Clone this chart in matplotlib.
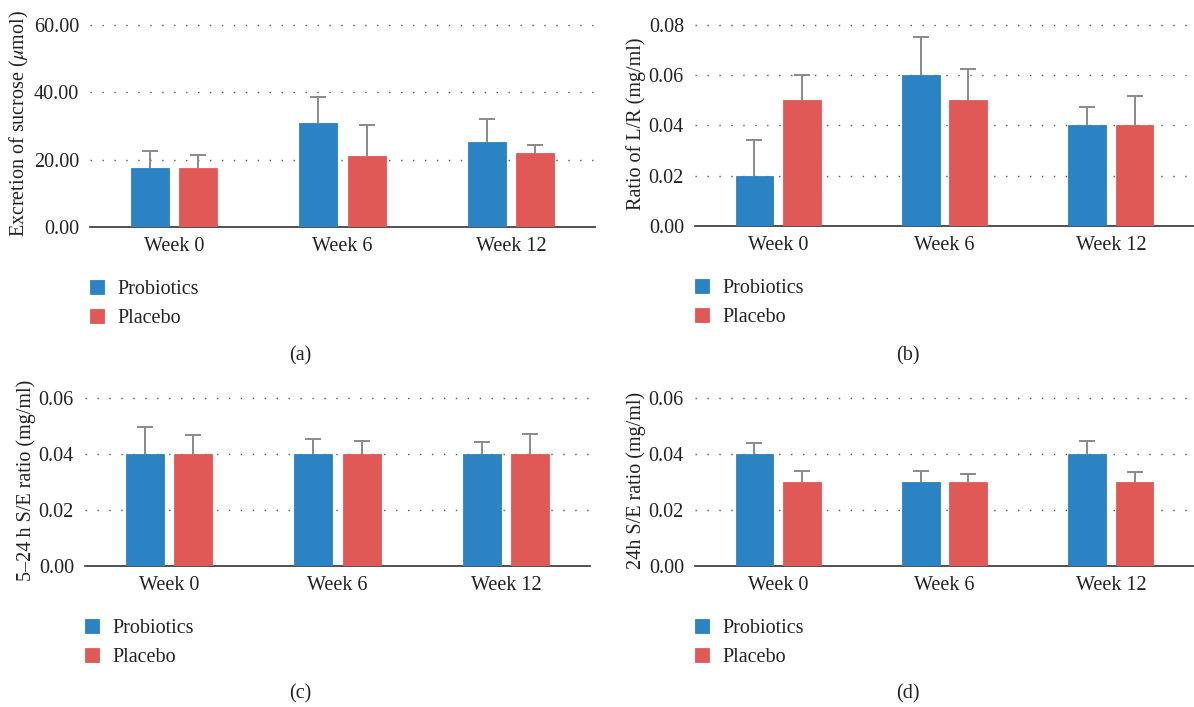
import numpy as np
from matplotlib import pyplot as plt

weeks = ["Week 0", "Week 6", "Week 12"]
groups = ["Probiotics", "Placebo"]

# (a) excretion of sucrose
sucrose_pro = [17.5, 30.9, 25.2]
sucrose_pro_top = [22.6, 38.7, 32.1]
sucrose_pla = [17.5, 21.1, 22.0]
sucrose_pla_top = [21.4, 30.3, 24.4]

# (b) ratio of L/R
lr_pro = [0.02, 0.06, 0.04]
lr_pro_top = [0.0342, 0.0751, 0.0473]
lr_pla = [0.05, 0.05, 0.04]
lr_pla_top = [0.060, 0.0624, 0.0518]

# (c) 5-24h S/E ratio
se524_pro = [0.04, 0.04, 0.04]
se524_pro_top = [0.0496, 0.0455, 0.0444]
se524_pla = [0.04, 0.04, 0.04]
se524_pla_top = [0.0468, 0.0447, 0.0472]

# (d) 24h S/E ratio
se24_pro = [0.04, 0.03, 0.04]
se24_pro_top = [0.0441, 0.034, 0.0447]
se24_pla = [0.03, 0.03, 0.03]
se24_pla_top = [0.0339, 0.033, 0.0336]

blue = "#2b83c3"
red = "#e05957"
plt.rcParams['font.family'] = ['Liberation Serif', 'DejaVu Serif']
plt.rcParams['mathtext.fontset'] = 'stix'
fs = 14.5

W, H = 1194, 707
fig = plt.figure(figsize=(W / 100, H / 100), dpi=100)

def panel(px_left, px_right, px_bottom, px_top, ymax, yticks, fmt, ylabel,
          pro, pro_top, pla, pla_top, caption, cap_x, cap_y, leg_y):
    # a little headroom so the top dotted gridline isn't clipped
    extra = 1.02
    height = (px_bottom - px_top) * extra
    ax = fig.add_axes([px_left / W, 1 - px_bottom / H, (px_right - px_left) / W, height / H])
    x = np.arange(len(weeks))
    bw = 0.226
    off = 0.143
    for vals, tops, col, sign, lab in [(pro, pro_top, blue, -1, groups[0]),
                                       (pla, pla_top, red, 1, groups[1])]:
        vals = np.array(vals)
        up = np.array(tops) - vals
        eb = ax.errorbar(x + sign * off, vals, yerr=[np.zeros_like(up), up], fmt='none',
                         ecolor="#8a8a8a", elinewidth=1.4, capsize=5.5, capthick=1.4, zorder=2)
        # only keep the upper cap
        eb[1][0].remove()
        ax.bar(x + sign * off, vals, bw, color=col, edgecolor=col, linewidth=0.6,
               label=lab, zorder=3)
    ax.set_xlim(-0.5, 2.5)
    ax.set_ylim(0, ymax * extra)
    ax.set_yticks(yticks)
    ax.set_yticklabels([fmt % t for t in yticks], fontsize=fs, color="#222222")
    ax.set_xticks(x)
    ax.set_xticklabels(weeks, fontsize=fs, color="#222222")
    ax.tick_params(length=0, pad=8)
    ax.tick_params(axis='x', pad=7)
    for s in ['left', 'right', 'top']:
        ax.spines[s].set_visible(False)
    ax.spines['bottom'].set_color("#333333")
    ax.spines['bottom'].set_linewidth(1.2)
    for t in yticks[1:]:
        ax.axhline(t, color="#555555", lw=1.0, ls=(0, (1, 7.6)), zorder=1)
    ax.set_ylabel(ylabel, fontsize=fs, color="#222222", labelpad=2)
    ax.legend(loc='upper left', bbox_to_anchor=(px_left / W, 1 - leg_y / H),
              bbox_transform=fig.transFigure, frameon=False, fontsize=fs,
              handlelength=0.7, handleheight=0.7, handletextpad=0.65,
              labelspacing=0.5, borderpad=0, borderaxespad=0,
              labelcolor="#222222")
    fig.text(cap_x / W, 1 - cap_y / H, caption, ha='center', va='center',
             fontsize=fs, color="#222222")
    return ax

panel(90, 595, 227, 25, 60, [0, 20, 40, 60], "%.2f", r"Excretion of sucrose ($\mu$mol)",
      sucrose_pro, sucrose_pro_top, sucrose_pla, sucrose_pla_top, "(a)", 300, 356, 280)
panel(695, 1194, 226, 25, 0.08, [0, 0.02, 0.04, 0.06, 0.08], "%.2f", "Ratio of L/R (mg/ml)",
      lr_pro, lr_pro_top, lr_pla, lr_pla_top, "(b)", 908, 356, 279)
panel(85, 590, 566, 398, 0.06, [0, 0.02, 0.04, 0.06], "%.2f", "5\u201324\u2009h S/E ratio (mg/ml)",
      se524_pro, se524_pro_top, se524_pla, se524_pla_top, "(c)", 300, 694, 619)
panel(695, 1194, 566, 398, 0.06, [0, 0.02, 0.04, 0.06], "%.2f", "24h S/E ratio (mg/ml)",
      se24_pro, se24_pro_top, se24_pla, se24_pla_top, "(d)", 908, 694, 619)

fig.savefig("out.png", dpi=100)
